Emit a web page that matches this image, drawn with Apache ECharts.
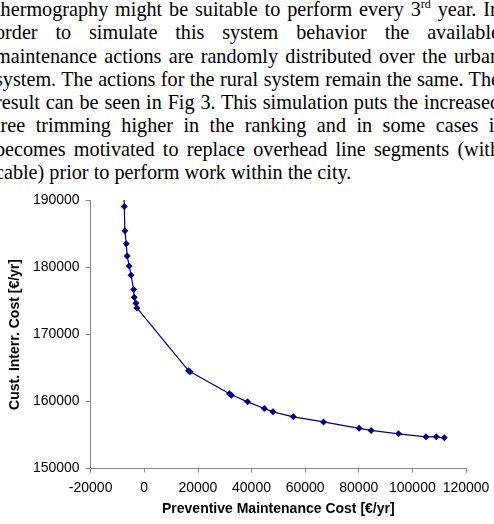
<!DOCTYPE html>
<html>
<head>
<meta charset="utf-8">
<script src="https://cdn.jsdelivr.net/npm/echarts@6/dist/echarts.min.js"></script>
<style>
  html, body { margin: 0; padding: 0; background: #fff; overflow: hidden; }
  #text {
    position: absolute; left: -5px; top: -2px; width: 505px;
    font-family: "Liberation Serif", "Times New Roman", serif;
    font-size: 20.2px; line-height: 23.3px; color: #000;
  }
  #text div { text-align: justify; text-align-last: justify; white-space: nowrap; }
  #text div.last { text-align-last: left; }
  #text sup { font-size: 12px; line-height: 0; vertical-align: 8px; }
  #chart { position: absolute; left: 0; top: 0; width: 494px; height: 524px; }
</style>
</head>
<body>
<div id="text">
  <div>thermography might be suitable to perform every 3<sup>rd</sup> year. In</div>
  <div>order to simulate this system behavior the available</div>
  <div>maintenance actions are randomly distributed over the urban</div>
  <div>system. The actions for the rural system remain the same. The</div>
  <div>result can be seen in Fig 3. This simulation puts the increased</div>
  <div>tree trimming higher in the ranking and in some cases it</div>
  <div>becomes motivated to replace overhead line segments (with</div>
  <div class="last">cable) prior to perform work within the city.</div>
</div>
<div id="chart"></div>
<script>
  // preventive maintenance cost [€/yr]
  var prevCost = [-7600, -7440, -7220, -6710, -6350, -5630, -4910, -3970, -3720, -3100, -2740,
    16500, 17100, 31800, 32500, 38520, 44760, 48010, 55590, 66860, 80140, 84620, 94830, 105050, 108910, 111910];
  // customer interruption cost [€/yr]
  var interrCost = [191000, 189100, 185500, 183530, 181730, 180240, 178850, 176700, 175560, 174660, 173960,
    164600, 164450, 161150, 160950, 159950, 158960, 158460, 157710, 156950, 155990, 155690, 155180, 154730, 154730, 154580];

  var xTicks = { min: -20000, max: 120000, step: 20000 };
  var yTicks = { min: 150000, max: 190000, step: 10000 };

  var points = [];
  for (var i = 0; i < prevCost.length; i++) {
    points.push([prevCost[i], interrCost[i]]);
  }

  var chart = echarts.init(document.getElementById('chart'));
  var axisGray = '#878787';
  var plain = function (v) { return String(v); };
  chart.setOption({
    animation: false,
    grid: { left: 78, top: 200.5, width: 388, height: 268 },
    xAxis: {
      type: 'value',
      min: xTicks.min, max: xTicks.max, interval: xTicks.step,
      name: 'Preventive Maintenance Cost [€/yr]',
      nameLocation: 'middle',
      nameGap: 34,
      nameTextStyle: { fontFamily: 'Liberation Sans', fontWeight: 'bold', fontSize: 14, color: '#000' },
      axisLine: { onZero: false, lineStyle: { color: axisGray, width: 1 } },
      axisTick: { length: 4, lineStyle: { color: axisGray } },
      axisLabel: { margin: 13, fontFamily: 'Liberation Sans', fontSize: 14, color: '#000', formatter: plain },
      splitLine: { show: false }
    },
    yAxis: {
      type: 'value',
      min: yTicks.min, max: yTicks.max, interval: yTicks.step,
      name: 'Cust. Interr. Cost [€/yr]',
      nameLocation: 'middle',
      nameGap: 52,
      nameTextStyle: { fontFamily: 'Liberation Sans', fontWeight: 'bold', fontSize: 14, color: '#000' },
      axisLine: { show: true, onZero: false, lineStyle: { color: axisGray, width: 1 } },
      axisTick: { show: true, length: 5, lineStyle: { color: axisGray } },
      axisLabel: { margin: 11, fontFamily: 'Liberation Sans', fontSize: 14, color: '#000', formatter: plain },
      splitLine: { show: false }
    },
    series: [{
      type: 'line',
      data: points,
      clip: true,
      symbol: 'diamond',
      symbolSize: 7,
      showAllSymbol: true,
      lineStyle: { color: '#000080', width: 1.2 },
      itemStyle: { color: '#000080' }
    }]
  });
</script>
</body>
</html>
